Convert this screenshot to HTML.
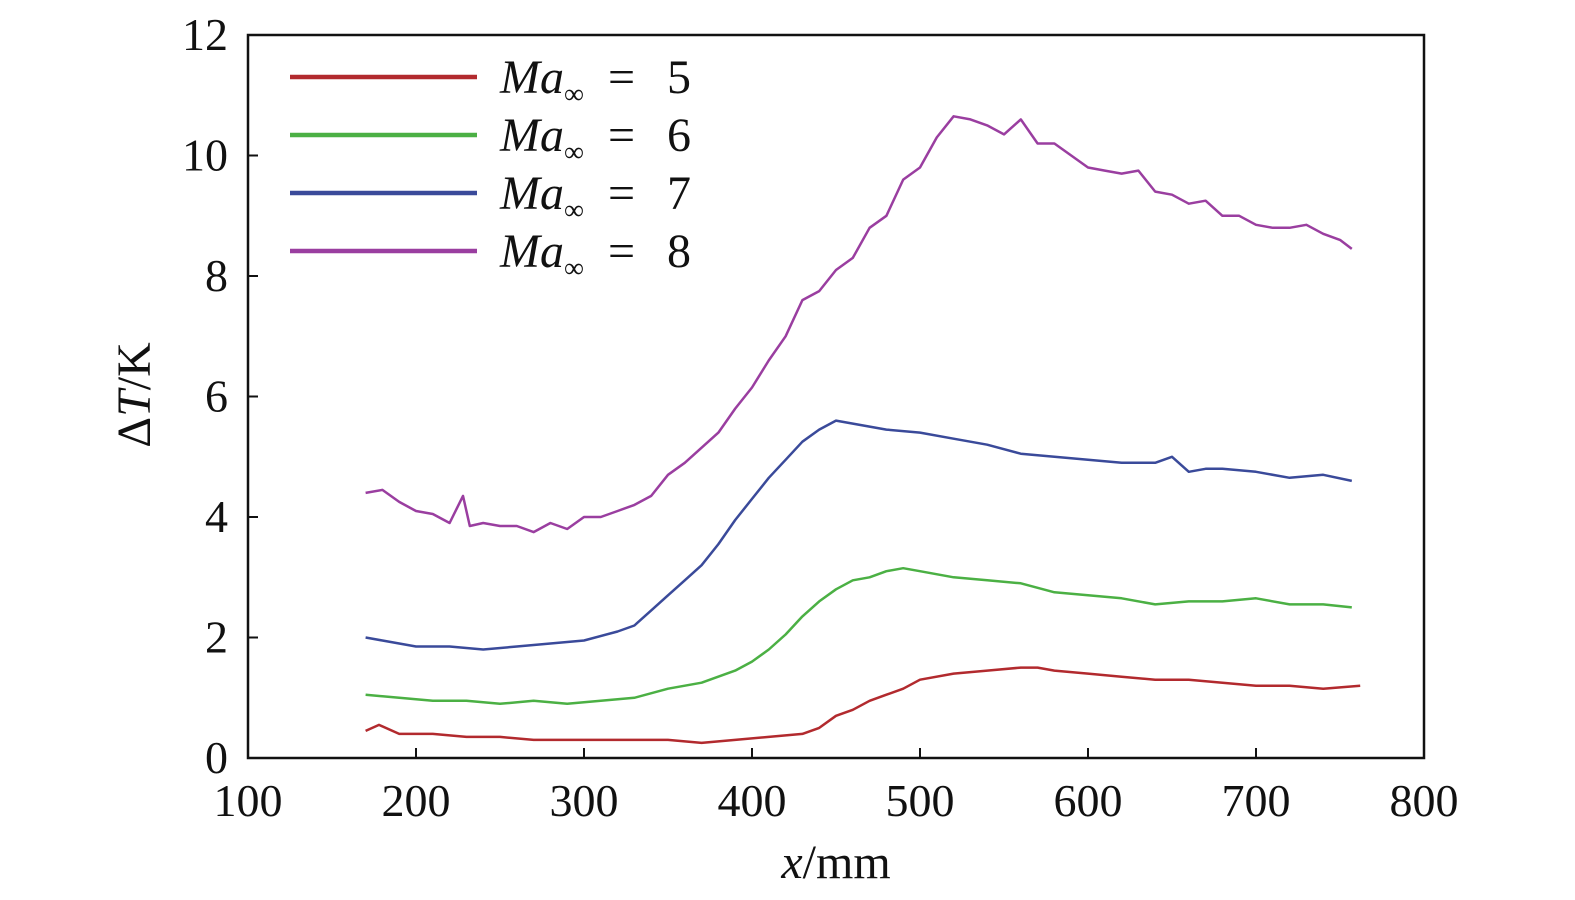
<!DOCTYPE html>
<html><head><meta charset="utf-8"><style>
html,body{margin:0;padding:0;background:#fff;}
svg{display:block;font-family:"Liberation Serif",serif;}
</style></head><body>
<svg id="chart" width="1575" height="900" viewBox="0 0 1575 900" xmlns="http://www.w3.org/2000/svg">
<g id="axes"></g>
<g id="series"></g>
<g id="legend"></g>
</svg>
<script>
const xTicks=[100,200,300,400,500,600,700,800];
const yTicks=[0,2,4,6,8,10,12];
const ma5x=[170,178,190,210,230,250,270,290,310,330,350,370,390,410,430,440,450,460,470,480,490,500,520,540,560,570,580,600,620,640,660,680,700,720,740,762];
const ma5y=[0.45,0.55,0.4,0.4,0.35,0.35,0.3,0.3,0.3,0.3,0.3,0.25,0.3,0.35,0.4,0.5,0.7,0.8,0.95,1.05,1.15,1.3,1.4,1.45,1.5,1.5,1.45,1.4,1.35,1.3,1.3,1.25,1.2,1.2,1.15,1.2];
const ma6x=[170,190,210,230,250,270,290,310,330,350,370,390,400,410,420,430,440,450,460,470,480,490,500,520,540,560,580,600,620,640,660,680,700,720,740,757];
const ma6y=[1.05,1.0,0.95,0.95,0.9,0.95,0.9,0.95,1.0,1.15,1.25,1.45,1.6,1.8,2.05,2.35,2.6,2.8,2.95,3.0,3.1,3.15,3.1,3.0,2.95,2.9,2.75,2.7,2.65,2.55,2.6,2.6,2.65,2.55,2.55,2.5];
const ma7x=[170,180,200,220,240,260,280,300,320,330,340,350,360,370,380,390,400,410,420,430,440,450,460,470,480,500,520,540,560,580,600,620,640,650,660,670,680,700,720,740,757];
const ma7y=[2.0,1.95,1.85,1.85,1.8,1.85,1.9,1.95,2.1,2.2,2.45,2.7,2.95,3.2,3.55,3.95,4.3,4.65,4.95,5.25,5.45,5.6,5.55,5.5,5.45,5.4,5.3,5.2,5.05,5.0,4.95,4.9,4.9,5.0,4.75,4.8,4.8,4.75,4.65,4.7,4.6];
const ma8x=[170,180,190,200,210,220,228,232,240,250,260,270,280,290,300,310,320,330,340,350,360,370,380,390,400,410,420,430,440,450,460,470,480,490,500,510,520,530,540,550,560,570,580,590,600,610,620,630,640,650,660,670,680,690,700,710,720,730,740,750,757];
const ma8y=[4.4,4.45,4.25,4.1,4.05,3.9,4.35,3.85,3.9,3.85,3.85,3.75,3.9,3.8,4.0,4.0,4.1,4.2,4.35,4.7,4.9,5.15,5.4,5.8,6.15,6.6,7.0,7.6,7.75,8.1,8.3,8.8,9.0,9.6,9.8,10.3,10.65,10.6,10.5,10.35,10.6,10.2,10.2,10.0,9.8,9.75,9.7,9.75,9.4,9.35,9.2,9.25,9.0,9.0,8.85,8.8,8.8,8.85,8.7,8.6,8.45];
const NS="http://www.w3.org/2000/svg";
const X0=248,X1=1424,Y0=758,Y1=35;
const sx=v=>X0+(v-100)/700*(X1-X0);
const sy=v=>Y0-v/12*(Y0-Y1);
function mk(tag,attrs,parent,txt){const e=document.createElementNS(NS,tag);for(const k in attrs)e.setAttribute(k,attrs[k]);if(txt!==undefined)e.textContent=txt;parent.appendChild(e);return e;}
const axes=document.getElementById('axes');
const frame=mk('rect',{x:X0,y:Y1,width:X1-X0,height:Y0-Y1,fill:'none',stroke:'#111','stroke-width':2.5},axes);


xTicks.forEach(t=>{
  const l=mk('line',{x1:sx(t),x2:sx(t),y1:Y0,y2:Y0-10,stroke:'#111','stroke-width':2},axes);
  
  
  const tx=mk('text',{x:sx(t),y:816,'font-size':46,'text-anchor':'middle',fill:'#111'},axes,String(t));
  
  
});
yTicks.forEach(t=>{
  const l=mk('line',{x1:X0,x2:X0+10,y1:sy(t),y2:sy(t),stroke:'#111','stroke-width':2},axes);
  
  
  const tx=mk('text',{x:228,y:sy(t)+15,'font-size':46,'text-anchor':'end',fill:'#111'},axes,String(t));
  
  
});
const xt=mk('text',{x:836,y:878,'font-size':48,'text-anchor':'middle',fill:'#111'},axes);
xt.innerHTML='<tspan font-style="italic">x</tspan>/mm';


const yt=mk('text',{x:0,y:0,'font-size':48,'text-anchor':'middle',fill:'#111',transform:'translate(150,395) rotate(-90)'},axes);
yt.innerHTML='Δ<tspan font-style="italic">T</tspan>/K';


const ser=[[ma5x,ma5y,'#b22a2e','5'],[ma6x,ma6y,'#4bb044','6'],[ma7x,ma7y,'#3a4a9a','7'],[ma8x,ma8y,'#9a3ea0','8']];
const sg=document.getElementById('series');
const lg=document.getElementById('legend');
ser.forEach((s,i)=>{
  const d=s[0].map((x,j)=>(j?'L':'M')+sx(x).toFixed(1)+','+sy(s[1][j]).toFixed(1)).join('');
  const p=mk('path',{d:d,fill:'none',stroke:s[2],'stroke-width':2.5,'stroke-linejoin':'round'},sg);
  
  
  const ly=77+i*58;
  const ll=mk('line',{x1:290,x2:477,y1:ly,y2:ly,stroke:s[2],'stroke-width':4.5},lg);
  
  
  const lt=mk('text',{x:500,y:ly+16,'font-size':48,fill:'#111'},lg);
  lt.innerHTML='<tspan font-style="italic">Ma</tspan><tspan font-size="28" dy="10">∞</tspan><tspan dy="-10" x="608">=</tspan><tspan x="667">'+s[3]+'</tspan>';
  
  
});
</script>
</body></html>
